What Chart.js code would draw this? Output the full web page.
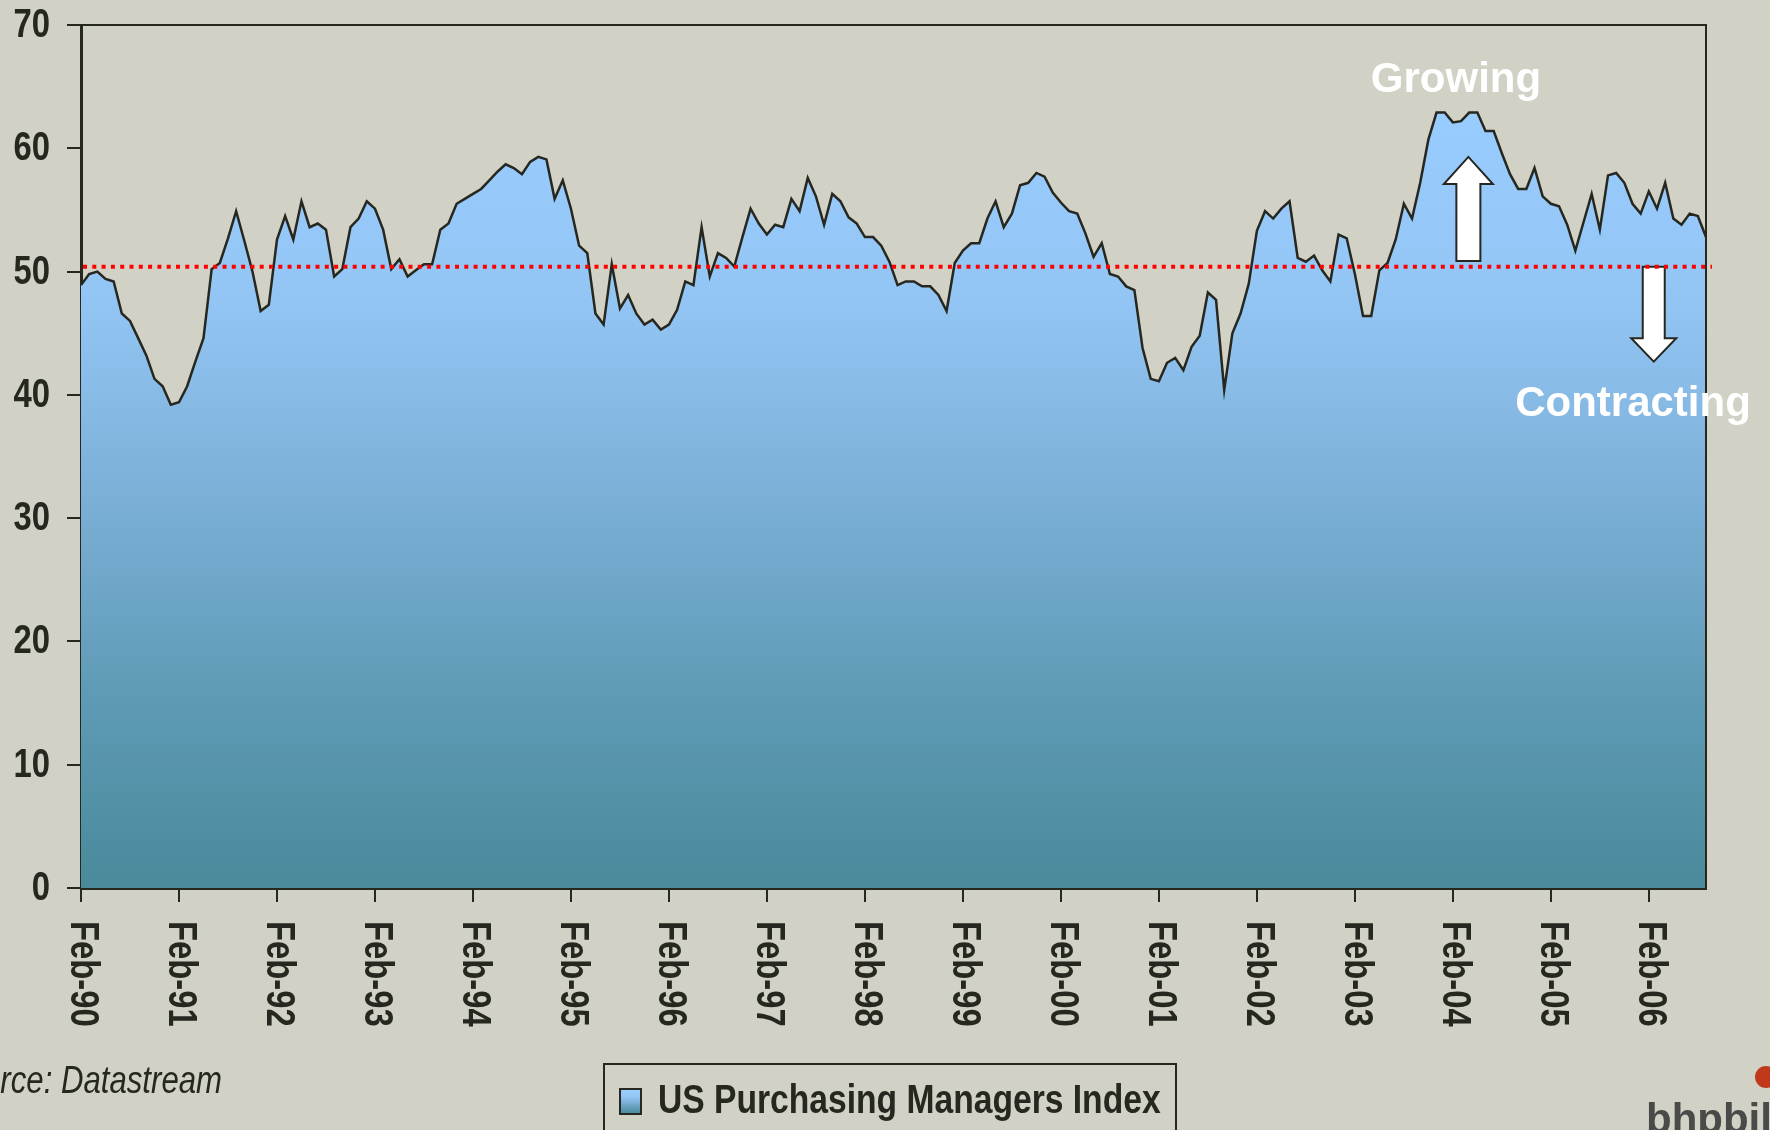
<!DOCTYPE html>
<html lang="en">
  <head>
    <meta charset="UTF-8" />
    <title>US Purchasing Managers Index</title>
    <script src="https://cdn.jsdelivr.net/npm/chart.js"></script>
    <style>
      html, body { margin: 0; padding: 0; background: #d1d1c5; }
      canvas { display: block; }
    </style>
  </head>
  <body>
    <canvas id="pmiChart" width="1770" height="1130"></canvas>

    <script>
      // monthly index, Feb-90 .. Sep-06
      let pmi = [
        48.9, 49.8, 50.0, 49.4, 49.2, 46.6, 46.0, 44.6, 43.2, 41.3, 40.7, 39.2, 39.4, 40.7, 42.7, 44.6, 50.2, 50.7, 52.7, 54.9,
        52.5, 50.0, 46.8, 47.3, 52.6, 54.5, 52.6, 55.7, 53.6, 53.9, 53.4, 49.6, 50.2, 53.6, 54.3, 55.7, 55.1, 53.4, 50.2, 51.0,
        49.6, 50.1, 50.6, 50.6, 53.4, 53.9, 55.5, 55.9, 56.3, 56.7, 57.4, 58.1, 58.7, 58.4, 57.9, 58.9, 59.3, 59.1, 55.9, 57.4,
        55.1, 52.1, 51.5, 46.6, 45.7, 50.6, 47.0, 48.1, 46.6, 45.7, 46.1, 45.3, 45.7, 46.9, 49.2, 48.9, 53.6, 49.6, 51.5, 51.1,
        50.4, 52.8, 55.1, 53.9, 53.0, 53.8, 53.6, 55.9, 54.9, 57.6, 56.1, 53.8, 56.3, 55.7, 54.4, 53.9, 52.8, 52.8, 52.1, 50.8,
        48.9, 49.2, 49.2, 48.8, 48.8, 48.1, 46.8, 50.7, 51.7, 52.3, 52.3, 54.3, 55.7, 53.6, 54.7, 57.0, 57.2, 58.0, 57.7, 56.4,
        55.6, 54.9, 54.7, 53.1, 51.2, 52.3, 49.8, 49.6, 48.8, 48.5, 43.8, 41.3, 41.1, 42.6, 43.0, 42.0, 43.9, 44.8, 48.3, 47.7,
        40.4, 45.0, 46.6, 49.0, 53.3, 54.9, 54.3, 55.1, 55.7, 51.1, 50.8, 51.3, 50.1, 49.2, 53.0, 52.7, 49.8, 46.4, 46.4, 50.1,
        50.7, 52.6, 55.5, 54.3, 57.2, 60.7, 62.9, 62.9, 62.1, 62.2, 62.9, 62.9, 61.4, 61.4, 59.6, 57.9, 56.7, 56.7, 58.4, 56.1,
        55.5, 55.3, 53.8, 51.7, 54.0, 56.3, 53.4, 57.8, 58.0, 57.2, 55.5, 54.7, 56.5, 55.1, 57.2, 54.3, 53.8, 54.7, 54.5, 52.8,
      ];

      let monthNames = ['Jan', 'Feb', 'Mar', 'Apr', 'May', 'Jun', 'Jul', 'Aug', 'Sep', 'Oct', 'Nov', 'Dec'];
      let months = pmi.map(function (v, i) {
        let yr = (1990 + Math.floor((i + 1) / 12)) % 100;
        return monthNames[(i + 1) % 12] + '-' + String(yr).padStart(2, '0');
      });

      let yearTicks = [
        'Feb-90', 'Feb-91', 'Feb-92', 'Feb-93', 'Feb-94', 'Feb-95', 'Feb-96', 'Feb-97', 'Feb-98',
        'Feb-99', 'Feb-00', 'Feb-01', 'Feb-02', 'Feb-03', 'Feb-04', 'Feb-05', 'Feb-06',
      ];
      let yTicks = [0, 10, 20, 30, 40, 50, 60, 70];
      let threshold = 50.4;

      let ink = '#26271f';
      let sans = "'Liberation Sans', Arial, sans-serif";
      let narrowScale = 0.82; // no Arial Narrow here, so squeeze Liberation Sans

      function areaGradient(c, top, bottom) {
        let g = c.createLinearGradient(0, top, 0, bottom);
        g.addColorStop(0, '#9acdff');
        g.addColorStop(0.1, '#99ccff');
        g.addColorStop(0.32, '#93c5f4');
        g.addColorStop(0.55, '#7bafd6');
        g.addColorStop(0.78, '#5e9ab5');
        g.addColorStop(1, '#4a8a9b');
        return g;
      }

      // text drawn with a horizontal squeeze, to look like a narrow face
      function narrowText(c, text, x, y, rotation) {
        c.save();
        c.translate(x, y);
        if (rotation) c.rotate(rotation);
        c.scale(narrowScale, 1);
        c.fillText(text, 0, 0);
        c.restore();
      }

      function arrow(c, x, yBase, yHeadBase, yTip, shaftHalf, headHalf) {
        c.beginPath();
        c.moveTo(x - shaftHalf, yBase);
        c.lineTo(x - shaftHalf, yHeadBase);
        c.lineTo(x - headHalf, yHeadBase);
        c.lineTo(x, yTip);
        c.lineTo(x + headHalf, yHeadBase);
        c.lineTo(x + shaftHalf, yHeadBase);
        c.lineTo(x + shaftHalf, yBase);
        c.closePath();
        c.fillStyle = '#ffffff';
        c.fill();
        c.lineWidth = 2;
        c.strokeStyle = ink;
        c.stroke();
      }

      var decorations = {
        id: 'decorations',
        beforeDraw(chart) {
          let c = chart.ctx;
          c.save();
          c.fillStyle = '#d1d1c5';
          c.fillRect(0, 0, chart.width, chart.height);
          c.restore();
        },
        afterDatasetsDraw(chart) {
          let c = chart.ctx;
          let a = chart.chartArea;
          let x = chart.scales.x;
          let y = chart.scales.y;

          c.save();
          // growing / contracting arrows
          arrow(c, x.getPixelForValue(169.9), y.getPixelForValue(50.85), y.getPixelForValue(57.1), y.getPixelForValue(59.3), 12, 24.5);
          arrow(c, x.getPixelForValue(192.6), y.getPixelForValue(50.4), y.getPixelForValue(44.6), y.getPixelForValue(42.7), 11, 22.5);

          // 50 line
          let ty = y.getPixelForValue(threshold);
          c.strokeStyle = '#ff0000';
          c.lineWidth = 4;
          c.setLineDash([4, 5.3]);
          c.beginPath();
          c.moveTo(a.left + 2, ty);
          c.lineTo(a.right + 6, ty);
          c.stroke();
          c.setLineDash([]);

          // frame top + right
          c.strokeStyle = ink;
          c.lineWidth = 2;
          c.beginPath();
          c.moveTo(a.left, a.top);
          c.lineTo(a.right, a.top);
          c.lineTo(a.right, a.bottom);
          c.stroke();

          c.fillStyle = '#ffffff';
          c.font = 'bold 42px ' + sans;
          c.textAlign = 'center';
          c.textBaseline = 'middle';
          c.fillText('Growing', 1456, 80);
          c.fillText('Contracting', 1633, 404);
          c.restore();
        },
        afterDraw(chart) {
          let c = chart.ctx;
          let a = chart.chartArea;
          let x = chart.scales.x;
          let y = chart.scales.y;

          c.save();
          c.fillStyle = ink;
          c.font = 'bold 40px ' + sans;

          // y labels
          c.textAlign = 'right';
          c.textBaseline = 'middle';
          yTicks.forEach(function (v) {
            narrowText(c, String(v), a.left - 31, y.getPixelForValue(v) + 1);
          });

          // x labels, rotated clockwise
          c.textAlign = 'left';
          yearTicks.forEach(function (lbl) {
            let px = x.getPixelForValue(months.indexOf(lbl));
            narrowText(c, lbl, px + 1, a.bottom + 33, Math.PI / 2);
          });

          // source
          c.font = 'italic 38px ' + sans;
          c.textAlign = 'right';
          narrowText(c, 'Source: Datastream', 222, 1082);

          // legend
          let ds = chart.data.datasets[0];
          c.strokeStyle = ink;
          c.lineWidth = 2;
          c.strokeRect(604, 1064, 572, 90);
          c.fillStyle = areaGradient(c, 1089, 1114);
          c.fillRect(620, 1089, 21, 25);
          c.strokeRect(620, 1089, 21, 25);
          c.fillStyle = ink;
          c.font = 'bold 41px ' + sans;
          c.textAlign = 'left';
          narrowText(c, ds.label, 658, 1102);

          // logo
          c.fillStyle = '#c0391b';
          c.beginPath();
          c.arc(1766, 1077, 11, 0, Math.PI * 2);
          c.fill();
          c.fillStyle = '#4a4a48';
          c.font = 'bold 42px ' + sans;
          c.textBaseline = 'alphabetic';
          c.fillText('bhpbilliton', 1646, 1133);
          c.restore();
        },
      };

      var pmiChart = new Chart(document.getElementById('pmiChart'), {
        type: 'line',
        data: {
          labels: months,
          datasets: [
            {
              label: 'US Purchasing Managers Index',
              data: pmi,
              borderColor: ink,
              borderWidth: 2.5,
              pointRadius: 0,
              tension: 0,
              fill: 'origin',
              backgroundColor: function (context) {
                let area = context.chart.chartArea;
                if (!area) return '#99ccff';
                return areaGradient(context.chart.ctx, area.top, area.bottom);
              },
            },
          ],
        },
        options: {
          responsive: false,
          animation: false,
          devicePixelRatio: 1,
          layout: { padding: { top: 25, right: 64, left: 0, bottom: 0 } },
          plugins: {
            legend: { display: false },
            tooltip: { enabled: false },
          },
          scales: {
            x: {
              type: 'category',
              offset: false,
              afterBuildTicks: function (axis) {
                axis.ticks = axis.ticks.filter(function (t) {
                  return yearTicks.includes(months[t.value]);
                });
              },
              afterFit: function (axis) {
                axis.height = 242;
              },
              ticks: { display: false, autoSkip: false },
              grid: {
                drawOnChartArea: false,
                drawTicks: true,
                tickLength: 14,
                color: ink,
                lineWidth: 2,
              },
              border: { display: true, color: ink, width: 3 },
            },
            y: {
              min: 0,
              max: 70,
              afterBuildTicks: function (axis) {
                axis.ticks = yTicks.map(function (v) {
                  return { value: v };
                });
              },
              afterFit: function (axis) {
                axis.width = 81;
                axis.paddingTop = 0;
                axis.paddingBottom = 0;
              },
              ticks: { display: false },
              grid: {
                drawOnChartArea: false,
                drawTicks: true,
                tickLength: 14,
                color: ink,
                lineWidth: 2,
              },
              border: { display: true, color: ink, width: 3 },
            },
          },
        },
        plugins: [decorations],
      });
    </script>
  </body>
</html>
